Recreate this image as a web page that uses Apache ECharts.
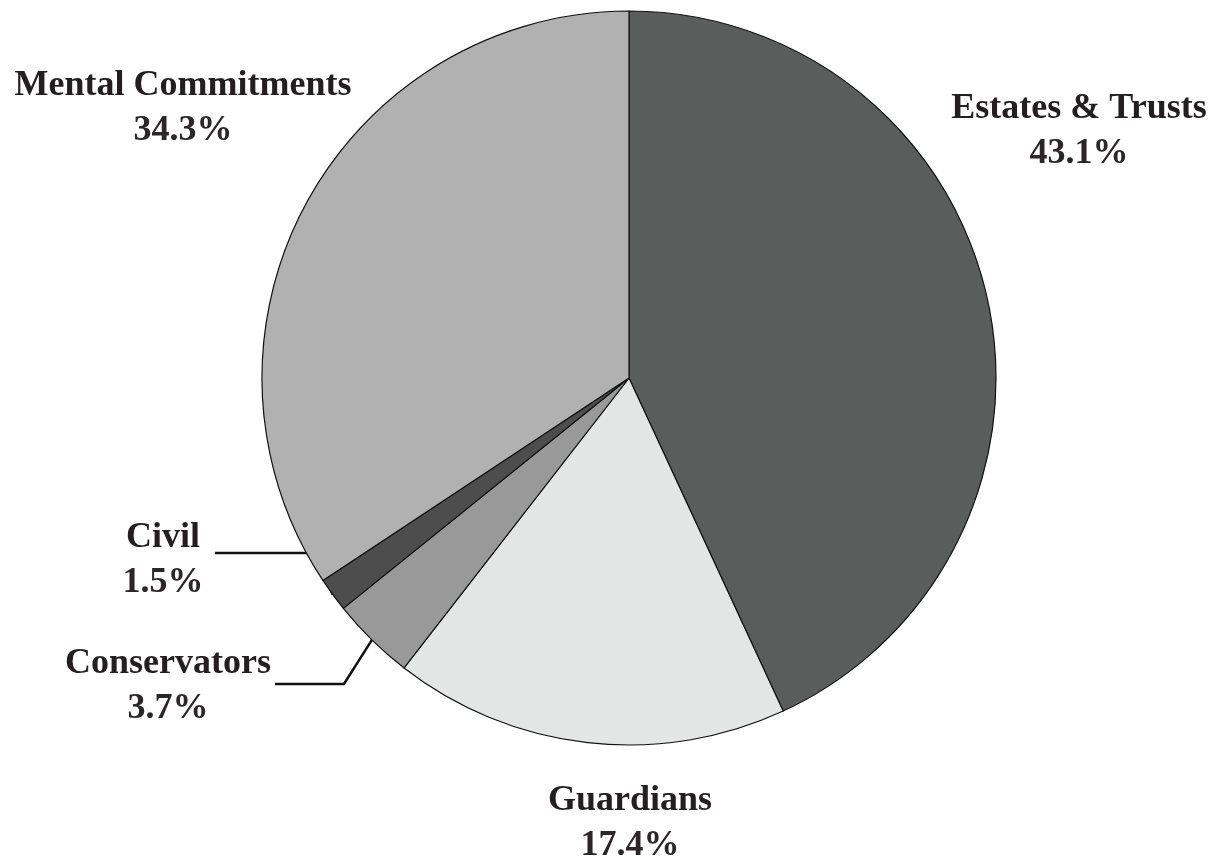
<!DOCTYPE html>
<html>
<head>
<meta charset="utf-8">
<script src="https://cdn.jsdelivr.net/npm/echarts@6/dist/echarts.min.js"></script>
<style>
  html, body { margin: 0; padding: 0; background: #fff; }
  #chart { width: 1222px; height: 862px; }
</style>
</head>
<body>
<div id="chart"></div>
<script>
// case type shares (percent)
var categories = ['Estates & Trusts', 'Guardians', 'Conservators', 'Civil', 'Mental Commitments']
var shares = [43.1, 17.4, 3.7, 1.5, 34.3]

var sliceColors = ['#5b5c5c', '#e4e5e5', '#999999', '#4d4d4d', '#b1b1b1']
// where each label block sits (centre of the two lines)
var labelSpots = [
  [1079, 131],
  [630, 823],
  [168, 686],
  [163, 560],
  [183, 108]
]

var chart = echarts.init(document.getElementById('chart'))

chart.setOption({
  backgroundColor: '#fff',
  animation: false,
  series: [{
    type: 'pie',
    center: [629, 378],
    radius: 367,
    startAngle: 90,
    clockwise: true,
    avoidLabelOverlap: false,
    itemStyle: {
      borderColor: '#111',
      borderWidth: 1.2
    },
    label: {
      show: true,
      position: 'outer',
      formatter: function (p) {
        return '{n|' + p.name + '}\n{v|' + p.percent.toFixed(1) + '%}'
      },
      rich: {
        n: { fontFamily: 'Liberation Serif', fontWeight: 'bold', fontSize: 36, color: '#231f20', lineHeight: 45 },
        v: { fontFamily: 'Liberation Serif', fontWeight: 'bold', fontSize: 36, color: '#2b2728', lineHeight: 45 }
      }
    },
    labelLine: {
      show: false,
      lineStyle: { color: '#111', width: 2.5 }
    },
    labelLayout: function (params) {
      var i = params.dataIndex
      var spot = labelSpots[i]
      var out = { x: spot[0], y: spot[1], align: 'center', verticalAlign: 'middle' }
      var pts = params.labelLinePoints
      if (pts && pts.length) {
        var a = pts[0]
        if (i === 3) {
          out.labelLinePoints = [[215, 553], [a[0] - 18, 553], a]
        } else if (i === 2) {
          out.labelLinePoints = [[275, 684], [a[0] - 28, 684], a]
        }
      }
      return out
    },
    data: categories.map(function (c, i) {
      return {
        name: c,
        value: shares[i],
        itemStyle: { color: sliceColors[i] },
        labelLine: { show: i === 2 || i === 3 }
      }
    })
  }]
})
</script>
</body>
</html>
